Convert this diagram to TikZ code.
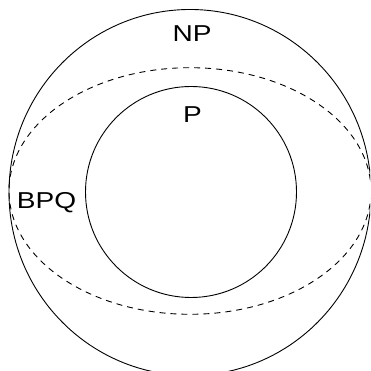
\documentclass[tikz,border=0pt]{standalone}
\usepackage{fontspec}
\setmainfont{Liberation Sans}
\begin{document}
\begin{tikzpicture}[x=1pt,y=1pt,
  ring/.style={draw=black, line width=0.9pt},
  dashring/.style={draw=black, line width=0.9pt, dash pattern=on 6pt off 5pt},
  lbl/.style={font=\fontsize{23}{23}\selectfont, inner sep=0pt}]
\useasboundingbox (0,0) rectangle (370,371);
\clip (0,0) rectangle (370,371);
\draw[ring] (190,178.5) ellipse [x radius=181, y radius=183];
\draw[dashring] (190,180) ellipse [x radius=181, y radius=123.3];
\draw[ring] (191,179) circle [radius=105.5];
\node[lbl] (np) at (192,337) {\scalebox{1.22}[1]{NP}};
\node[lbl] (p) at (192.5,256.5) {\scalebox{1.22}[1]{P}};
\node[lbl] (bpq) at (46.5,168.5) {\scalebox{1.22}[1]{BPQ}};
\end{tikzpicture}
\end{document}
